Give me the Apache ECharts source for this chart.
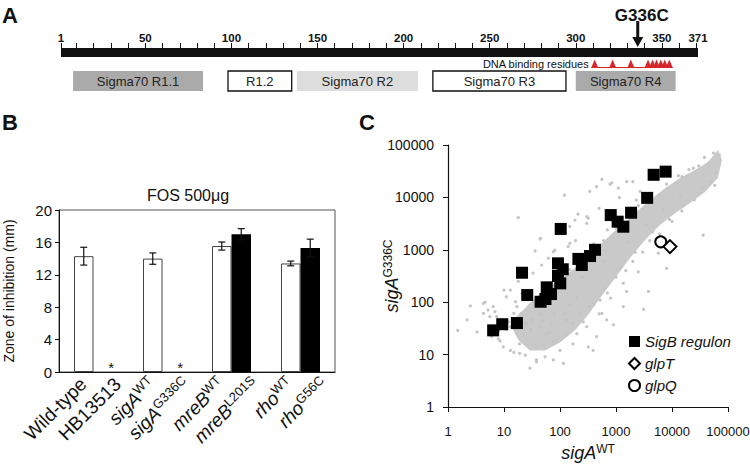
<!DOCTYPE html>
<html><head><meta charset="utf-8">
<script src="https://cdn.jsdelivr.net/npm/echarts@6/dist/echarts.min.js"></script>
<style>html,body{margin:0;padding:0;background:#fff}#chart{width:750px;height:465px}</style>
</head><body><div id="chart"></div>
<script>
// ---------------- Panel A : SigA protein map ----------------
const proteinLength = 371;
const axisTicksA = [1,10,20,30,40,50,60,70,80,90,100,110,120,130,140,150,160,170,180,190,200,210,220,230,240,250,260,270,280,290,300,310,320,330,340,350,360,370];
const axisLabelsA = [1,50,100,150,200,250,300,350,371];
const domainNames = ['Sigma70 R1.1','R1.2','Sigma70 R2','Sigma70 R3','Sigma70 R4'];
const domainStart = [8, 98, 138, 217, 300];
const domainEnd = [83.5, 135, 208.3, 294.3, 358];
const dnaBindingResidues = [311, 321.4, 332, 342, 344.6, 346.9, 349.4, 351.7, 354.3];
const mutationPosition = 336;
const mutationLabel = 'G336C';

// ---------------- Panel B : FOS 500ug zone of inhibition ----------------
const strainLabels = ['{n|Wild-type}','{n|HB13513}','{i|sigA}{s|WT}','{i|sigA}{s|G336C}','{i|mreB}{s|WT}','{i|mreB}{s|L201S}','{i|rho}{s|WT}','{i|rho}{s|G56C}'];
const strainPairs = ['wt','sigA','mreB','rho'];
const parentZone = [14.3, 14.0, 15.55, 13.4];
const parentErr = [1.1, 0.7, 0.5, 0.29];
const mutantZone = [0, 0, 17.0, 15.3];
const mutantErr = [0, 0, 0.7, 1.1];

// ---------------- Panel C : expression scatter ----------------
const sigBRegulon = [[6.4,29],[9.3,38],[17,40],[21,365],[26,137],[45,102],[55,115],[69,143],[58,192],[101,229],[92,316],[112,425],[92,552],[103,2500],[213,670],[245,513],[344,760],[422,1000],[805,4600],[1070,3440],[1350,2760],[1860,5100],[3600,9800],[4700,27000],[7700,31000]];
const glpT = [[9200,1150]];
const glpQ = [[6300,1420]];
const denseCoreUpper = [[14,32],[16,50],[29,97],[54,171],[100,265],[185,450],[340,800],[640,1540],[1180,2850],[2180,5000],[4050,8900],[7500,15000],[13900,23400],[25800,33300],[44000,47400],[66000,80000]];
const denseCoreLower = [[78000,52000],[66000,23400],[38800,12700],[21000,7800],[11300,5000],[6100,2970],[3300,1540],[1780,700],[960,290],[520,120],[316,57],[185,29],[100,17],[54,12],[29,12],[18,19]];
const otherGenes = [[38000,58000],[70000,64000],[20000,34000],[13000,26000],[1550,20000],[2000,20000],[560,22000],[780,18000],[1100,15000],[340,13000],[120,11000],[1150,9900],[2300,8900],[2700,13000],[210,4800],[300,4300],[500,6200],[185,3700],[150,2800],[140,1150],[190,1500],[45,1650],[36,950],[76,920],[47,510],[33,360],[36000,1900],[8000,440],[3800,160],[3100,73],[2500,380],[1350,230],[1550,160],[5700,860],[14000,11000],[58000,17000],[24000,36000],
[18,4100],[44,1600],[62,690],[13,170],[11,127],[2.5,85],[4.3,95],[5.2,71],[3.3,27],[1.5,29],[2.2,46],[7.4,53],[17,82],[21,148],[320,4000],[840,19000],[300,3200],[150,1330],[81,990],[450,16000],
[4.3,61],[6.4,82],[12,42],[29,5.5],[19,10.6],[13,12],[38,7.3],[54,9.1],[100,12],[170,16],[390,12],[300,34],[680,46],[1350,82],[8.5,18],[6,22],[58,25],[130,46],[17,25],[25,16],[38,14],[76,18],[200,25],[450,22],[900,37],
[4.6,100],[6.9,66],[10,170],[16,102],[15,61],[7.9,20],[9.7,14],[15,11],[19,16],[24,9.8],[38,7.9],[76,7.9],[50,15],[87,19],[130,24],[170,40],[260,42],[320,14],[230,61],[340,82],[520,110],[560,61],[31,46],[44,34],[66,27],[22,25],[13,34],[9.7,46],[5.6,53],[18,250],[115,6.8],
[100,330],[150,420],[250,700],[400,1300],[600,1500],[700,2400],[1000,2600],[1300,4000],[1700,4500],[2500,7000],[3000,6000],[6000,11000],[8000,18000],[12000,19000],[15000,25000],[30000,40000],[45000,45000],[55000,70000],
[700,150],[1000,300],[2000,600],[3000,900],[4000,1500],[6000,2000],[10000,3500],[15000,5500],[25000,9000],[30000,12000],[50000,20000],[60000,30000],[1500,400],[800,120],[500,60],
[45,60],[60,80],[80,60],[30,30],[50,45],[25,40],[70,40],[120,60],[150,90],[200,120],[90,150],
[400,90],[600,180],[1200,450],[2200,900],[4500,2200],[9000,3800],[16000,7000],[35000,15000],[250,300],[70,200],[40,120],[20,60],[11,30],[8,28],[600,600],[1600,1400],[3500,3000],[7000,6000]];

const FONT = '"Liberation Sans", Arial, sans-serif';
const chart = echarts.init(document.getElementById('chart'), null, {renderer: 'svg'});

const domainFill = ['#aaaaaa', '#ffffff', '#dddddd', '#ffffff', '#aaaaaa'];
const domainStroke = [null, '#111', null, '#111', null];
const G = {containLabel: false, outerBoundsMode: 'none'};

const option = {
  animation: false,
  backgroundColor: '#fff',
  textStyle: {fontFamily: FONT},
  grid: [
    Object.assign({left: 61, top: 48, width: 637, height: 45}, G),
    Object.assign({left: 59, top: 210, width: 276, height: 162, show: true, borderColor: '#555', borderWidth: 1}, G),
    Object.assign({left: 448, top: 145, width: 280, height: 262}, G),
    Object.assign({left: 66, top: 210, width: 276, height: 162}, G)
  ],
  xAxis: [
    {gridIndex: 0, type: 'value', min: 1, max: proteinLength, position: 'top',
      axisLine: {show: false}, splitLine: {show: false},
      axisTick: {show: true, customValues: axisTicksA, length: 5, inside: false, lineStyle: {color: '#111', width: 1}},
      axisLabel: {customValues: axisLabelsA, margin: 4, color: '#111', fontFamily: FONT, fontWeight: 'bold', fontSize: 11.5}},
    {gridIndex: 1, type: 'category', data: strainPairs,
      axisLine: {show: true, lineStyle: {color: '#111', width: 1}}, axisTick: {show: false}, axisLabel: {show: false}},
    {gridIndex: 3, type: 'category', data: strainLabels, position: 'bottom',
      axisLine: {show: false}, axisTick: {show: false},
      axisLabel: {interval: 0, rotate: 45, margin: 9, color: '#111', fontFamily: FONT, fontSize: 19,
        rich: {n: {fontSize: 19, fontFamily: FONT, color: '#111', lineHeight: 22},
               i: {fontStyle: 'italic', fontSize: 19, fontFamily: FONT, color: '#111', lineHeight: 22},
               s: {fontSize: 13, fontFamily: FONT, color: '#111', verticalAlign: 'top', lineHeight: 13}}}},
    {gridIndex: 2, type: 'log', logBase: 10, min: 1, max: 100000,
      axisLine: {show: true, onZero: false, lineStyle: {color: '#111', width: 1.2}},
      axisTick: {show: true, length: 5, lineStyle: {color: '#111'}},
      splitLine: {show: false},
      axisLabel: {margin: 18, fontSize: 13, color: '#111', fontFamily: FONT, formatter: v => String(Math.round(v))},
      name: '{i|sigA}{s|WT}', nameLocation: 'middle', nameGap: 33,
      nameTextStyle: {rich: {i: {fontStyle: 'italic', fontSize: 18, fontFamily: FONT, color: '#111', lineHeight: 20},
                             s: {fontSize: 12, fontFamily: FONT, color: '#111', verticalAlign: 'top', lineHeight: 12}}}}
  ],
  yAxis: [
    {gridIndex: 0, type: 'value', min: 0, max: 45, inverse: true, show: false},
    {gridIndex: 1, type: 'value', min: 0, max: 20, interval: 4,
      axisLine: {show: true, lineStyle: {color: '#111', width: 1}},
      axisTick: {show: true, length: 4, lineStyle: {color: '#111'}},
      splitLine: {show: false},
      axisLabel: {margin: 7, fontSize: 15, color: '#111', fontFamily: FONT},
      name: 'Zone of inhibition (mm)', nameLocation: 'middle', nameGap: 43,
      nameTextStyle: {fontSize: 14, color: '#111', fontFamily: FONT}},
    {gridIndex: 2, type: 'log', logBase: 10, min: 1, max: 100000,
      axisLine: {show: true, onZero: false, lineStyle: {color: '#111', width: 1.2}},
      axisTick: {show: true, length: 5, lineStyle: {color: '#111'}},
      splitLine: {show: false},
      axisLabel: {margin: 14, fontSize: 14, color: '#111', fontFamily: FONT, formatter: v => String(Math.round(v))},
      name: '{i|sigA}{s|G336C}', nameLocation: 'middle', nameGap: 46, nameRotate: 90, nameMoveOverlap: false,
      nameTextStyle: {rich: {i: {fontStyle: 'italic', fontSize: 18, fontFamily: FONT, color: '#111', lineHeight: 20},
                             s: {fontSize: 12, fontFamily: FONT, color: '#111', verticalAlign: 'top', lineHeight: 12}}}},
    {gridIndex: 3, type: 'value', min: 0, max: 20, show: false}
  ],
  legend: {
    data: ['SigB regulon', 'glpT', 'glpQ'], orient: 'vertical', left: 628, top: 334, padding: 0,
    itemWidth: 11, itemHeight: 11, itemGap: 7,
    textStyle: {fontStyle: 'italic', fontSize: 15, color: '#111', fontFamily: FONT}
  },
  graphic: [
    {type: 'text', x: 2, y: 4, style: {text: 'A', font: 'bold 22px ' + FONT, fill: '#111'}},
    {type: 'text', x: 2, y: 111, style: {text: 'B', font: 'bold 22px ' + FONT, fill: '#111'}},
    {type: 'text', x: 359, y: 111, style: {text: 'C', font: 'bold 22px ' + FONT, fill: '#111'}},
    {type: 'text', x: 188, y: 187, style: {text: 'FOS 500μg', font: '16px ' + FONT, fill: '#111', textAlign: 'center'}}
  ],
  series: [
    // Panel A: black protein bar
    {type: 'custom', xAxisIndex: 0, yAxisIndex: 0, silent: true, data: [[1, proteinLength]],
      renderItem: (p, api) => {
        const a = api.coord([api.value(0), 0]); const b = api.coord([api.value(1), 9]);
        return {type: 'rect', shape: {x: a[0], y: a[1], width: b[0] - a[0], height: b[1] - a[1]}, style: {fill: '#111'}};
      }},
    // Panel A: domain boxes
    {type: 'custom', xAxisIndex: 0, yAxisIndex: 0, silent: true,
      data: domainStart.map((s, i) => [s, domainEnd[i], i]),
      renderItem: (p, api) => {
        const i = api.value(2);
        const a = api.coord([api.value(0), 23]); const b = api.coord([api.value(1), 43]);
        return {type: 'group', children: [
          {type: 'rect', shape: {x: a[0], y: a[1], width: b[0] - a[0], height: b[1] - a[1]},
            style: {fill: domainFill[i], stroke: domainStroke[i] || null, lineWidth: domainStroke[i] ? 1.3 : 0}},
          {type: 'text', x: (a[0] + b[0]) / 2, y: (a[1] + b[1]) / 2,
            style: {text: domainNames[i], font: '13px ' + FONT, fill: '#222', align: 'center', verticalAlign: 'middle'}}
        ]};
      }},
    // Panel A: DNA binding residue baseline + caption
    {type: 'custom', xAxisIndex: 0, yAxisIndex: 0, silent: true,
      data: [[dnaBindingResidues[0], dnaBindingResidues[dnaBindingResidues.length - 1]]],
      renderItem: (p, api) => {
        const a = api.coord([api.value(0), 19.5]); const b = api.coord([api.value(1), 19.5]);
        return {type: 'group', children: [
          {type: 'line', shape: {x1: a[0] - 3.5, y1: a[1], x2: b[0] + 3.5, y2: b[1]}, style: {stroke: '#d7262b', lineWidth: 1.2}},
          {type: 'text', x: a[0] - 6, y: a[1] - 3.5,
            style: {text: 'DNA binding residues', font: '11px ' + FONT, fill: '#111', align: 'right', verticalAlign: 'middle'}}
        ]};
      }},
    // Panel A: residue triangles
    {type: 'custom', xAxisIndex: 0, yAxisIndex: 0, silent: true,
      data: dnaBindingResidues.map(r => [r]),
      renderItem: (p, api) => {
        const t = api.coord([api.value(0), 11.5]); const bse = api.coord([api.value(0), 20]);
        return {type: 'polygon', shape: {points: [[t[0], t[1]], [t[0] - 3.6, bse[1]], [t[0] + 3.6, bse[1]]]}, style: {fill: '#d7262b'}};
      }},
    // Panel A: mutation arrow
    {type: 'custom', xAxisIndex: 0, yAxisIndex: 0, silent: true, data: [[mutationPosition]],
      renderItem: (p, api) => {
        const top = api.coord([api.value(0), -27]); const headTop = api.coord([api.value(0), -11]); const tip = api.coord([api.value(0), -1]);
        return {type: 'group', children: [
          {type: 'line', shape: {x1: top[0], y1: top[1], x2: headTop[0], y2: headTop[1] + 1}, style: {stroke: '#111', lineWidth: 3}},
          {type: 'polygon', shape: {points: [[tip[0], tip[1]], [tip[0] - 5.5, headTop[1]], [tip[0] + 5.5, headTop[1]]]}, style: {fill: '#111'}},
          {type: 'text', x: top[0] + 4, y: top[1] - 6,
            style: {text: mutationLabel, font: 'bold 17px ' + FONT, fill: '#111', align: 'center', verticalAlign: 'middle'}}
        ]};
      }},
    // Panel B: bars
    {name: 'parent', type: 'bar', xAxisIndex: 1, yAxisIndex: 1, data: parentZone, barWidth: 19.5, barGap: '0%',
      itemStyle: {color: '#fff', borderColor: '#444', borderWidth: 1}, silent: true},
    {name: 'mutant', type: 'bar', xAxisIndex: 1, yAxisIndex: 1, data: mutantZone, barWidth: 19.5, barGap: '0%',
      itemStyle: {color: '#000', borderWidth: 0}, silent: true,
      label: {show: true, position: 'top', distance: 0, offset: [8, 3], fontSize: 15, color: '#111', fontFamily: FONT,
        formatter: p => (p.value === 0 ? '*' : '')}},
    // Panel B: error bars
    {type: 'custom', xAxisIndex: 1, yAxisIndex: 1, silent: true, z: 5,
      data: parentZone.map((v, i) => [i, v, parentErr[i], -1]).concat(mutantZone.map((v, i) => [i, v, mutantErr[i], 1])),
      renderItem: (p, api) => {
        const e = api.value(2); if (!e) return null;
        const side = api.value(3) * 9.75;
        const hi = api.coord([api.value(0), api.value(1) + e]); const lo = api.coord([api.value(0), api.value(1) - e]);
        const x = hi[0] + side, cw = 3.5;
        const st = {stroke: '#111', lineWidth: 1.2};
        return {type: 'group', children: [
          {type: 'line', shape: {x1: x, y1: hi[1], x2: x, y2: lo[1]}, style: st},
          {type: 'line', shape: {x1: x - cw, y1: hi[1], x2: x + cw, y2: hi[1]}, style: st},
          {type: 'line', shape: {x1: x - cw, y1: lo[1], x2: x + cw, y2: lo[1]}, style: st}
        ]};
      }},
    // Panel C: dense core of the gene cloud
    {type: 'custom', xAxisIndex: 3, yAxisIndex: 2, silent: true, z: 1,
      data: denseCoreUpper.concat(denseCoreLower),
      renderItem: (p, api) => {
        if (p.dataIndex !== 0) return null;
        const pts = denseCoreUpper.concat(denseCoreLower).map(d => api.coord(d));
        return {type: 'polygon', shape: {points: pts}, style: {fill: '#c9c9c9'}};
      }},
    {name: 'all genes', type: 'scatter', xAxisIndex: 3, yAxisIndex: 2, data: otherGenes, symbolSize: 3.2, silent: true, z: 1,
      itemStyle: {color: '#c4c4c4', opacity: 1}},
    {name: 'SigB regulon', type: 'scatter', xAxisIndex: 3, yAxisIndex: 2, data: sigBRegulon, symbol: 'rect', symbolSize: 12, z: 3,
      itemStyle: {color: '#000', opacity: 1}},
    {name: 'glpQ', type: 'scatter', xAxisIndex: 3, yAxisIndex: 2, data: glpQ, symbol: 'circle', symbolSize: 11, z: 4,
      itemStyle: {color: '#fff', borderColor: '#000', borderWidth: 2, opacity: 1}},
    {name: 'glpT', type: 'scatter', xAxisIndex: 3, yAxisIndex: 2, data: glpT, symbol: 'diamond', symbolSize: 13, z: 4,
      itemStyle: {color: '#fff', borderColor: '#000', borderWidth: 2, opacity: 1}}
  ]
};
chart.setOption(option);
</script>
</body></html>
